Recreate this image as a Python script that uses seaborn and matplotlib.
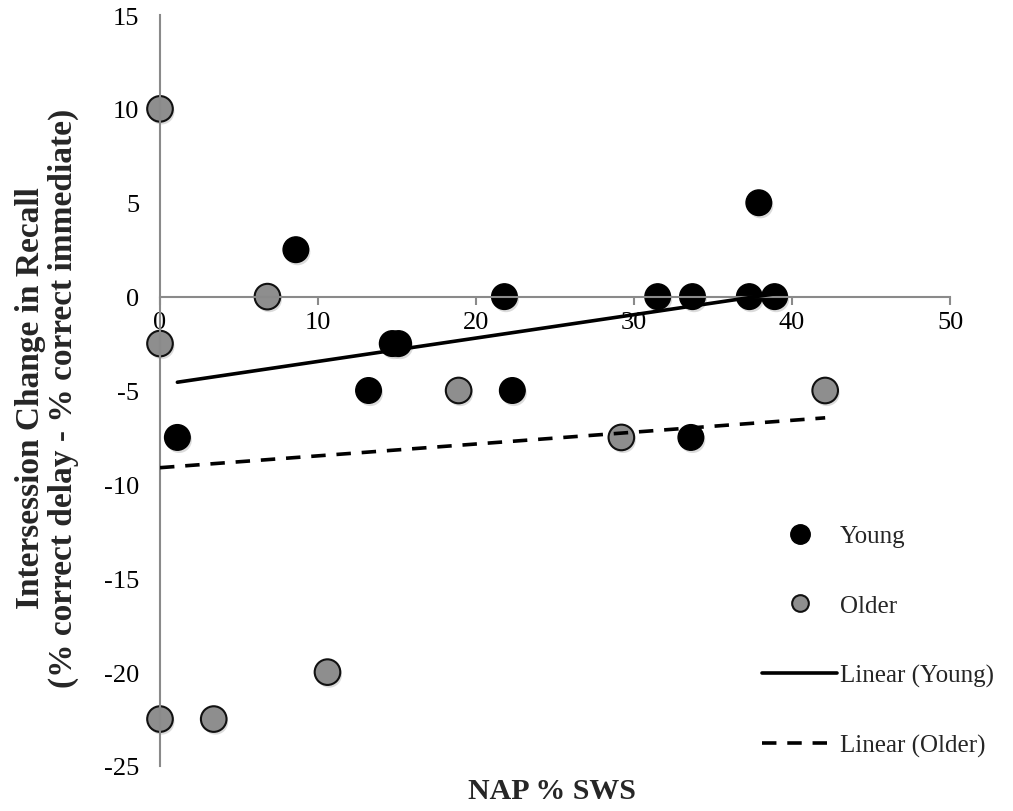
import numpy as np
import pandas as pd
import matplotlib
matplotlib.use("Agg")
import matplotlib.pyplot as plt
import matplotlib.patheffects as pe
import seaborn as sns
from matplotlib.lines import Line2D

# ---- data ----
young_x = [1.1, 8.6, 13.2, 14.7, 15.1, 21.8, 22.3, 31.5, 33.7, 33.6, 37.3, 37.9, 38.9]
young_y = [-7.5, 2.5, -5.0, -2.5, -2.5, 0.0, -5.0, 0.0, 0.0, -7.5, 0.0, 5.0, 0.0]
older_x = [0.0, 0.0, 0.0, 3.4, 6.8, 10.6, 18.9, 29.2, 42.1]
older_y = [10.0, -2.5, -22.5, -22.5, 0.0, -20.0, -5.0, -7.5, -5.0]
x_ticks = [0, 10, 20, 30, 40, 50]
y_ticks = [-25, -20, -15, -10, -5, 0, 5, 10, 15]
series_names = ["Young", "Older"]

young = pd.DataFrame({"x": young_x, "y": young_y})
older = pd.DataFrame({"x": older_x, "y": older_y})

sns.set_style("white")
plt.rcParams["font.family"] = ["Liberation Serif", "DejaVu Serif"]
plt.rcParams["axes.unicode_minus"] = False

fig = plt.figure(figsize=(10.13, 8.12), dpi=100)
ax = fig.add_axes([160 / 1013, 45 / 812, 790 / 1013, 751 / 812])

axis_grey = "#8a8a8a"
msize = 340
shadow = [pe.SimplePatchShadow(offset=(1.2, -2.0), shadow_rgbFace="#9a9a9a", alpha=0.35),
          pe.Normal()]

sns.scatterplot(data=older, x="x", y="y", ax=ax, s=msize, color="#8e8e8e",
                edgecolor="#111111", linewidth=1.5, zorder=2, clip_on=False, legend=False)
sns.scatterplot(data=young, x="x", y="y", ax=ax, s=msize, color="black",
                edgecolor="black", linewidth=1, zorder=2, clip_on=False, legend=False)
for coll in ax.collections:
    coll.set_path_effects(shadow)

sns.regplot(data=young, x="x", y="y", ax=ax, scatter=False, ci=None, truncate=True,
            line_kws=dict(color="black", lw=2.6, zorder=3))
sns.regplot(data=older, x="x", y="y", ax=ax, scatter=False, ci=None, truncate=True,
            line_kws=dict(color="black", lw=2.6, ls=(0, (4, 3)), zorder=3))

ax.set_xlim(0, 50)
ax.set_ylim(-25, 15)
ax.set_xticks(x_ticks)
ax.set_yticks(y_ticks)
ax.set_xlabel("")
ax.set_ylabel("")

for s in ["top", "right"]:
    ax.spines[s].set_visible(False)
ax.spines["bottom"].set_position(("data", 0))
for s in ["left", "bottom"]:
    ax.spines[s].set_color(axis_grey)
    ax.spines[s].set_linewidth(1.5)
ax.tick_params(axis="both", which="both", direction="out", length=6, width=1.5,
               color=axis_grey, labelsize=19, labelcolor="black")
ax.tick_params(axis="y", pad=9)
ax.tick_params(axis="x", pad=4, bottom=True)

fig.text(47 / 1013, 1 - 398 / 812, "Intersession Change in Recall\n(% correct delay - % correct immediate)",
         rotation=90, ha="center", va="center", fontsize=24, fontweight="bold",
         linespacing=1.1)
fig.text(552 / 1013, 1 - 792 / 812, "NAP % SWS", ha="center", va="center",
         fontsize=21.5, fontweight="bold")

handles = [
    Line2D([], [], ls="none", marker="o", markersize=14, markerfacecolor="black",
           markeredgecolor="black"),
    Line2D([], [], ls="none", marker="o", markersize=12, markerfacecolor="#8e8e8e",
           markeredgecolor="#111111", markeredgewidth=1.5),
    Line2D([], [], color="black", lw=2.6),
    Line2D([], [], color="black", lw=2.6, ls=(0, (4, 3))),
]
labels = series_names + ["Linear (Young)", "Linear (Older)"]
fig.legend(handles, labels, loc="upper left", bbox_to_anchor=(752 / 1013, 1 - 516 / 812),
           frameon=False, fontsize=18, handlelength=3.0, handletextpad=0.1,
           labelspacing=1.88, borderaxespad=0)

fig.savefig("out.png", dpi=100)
